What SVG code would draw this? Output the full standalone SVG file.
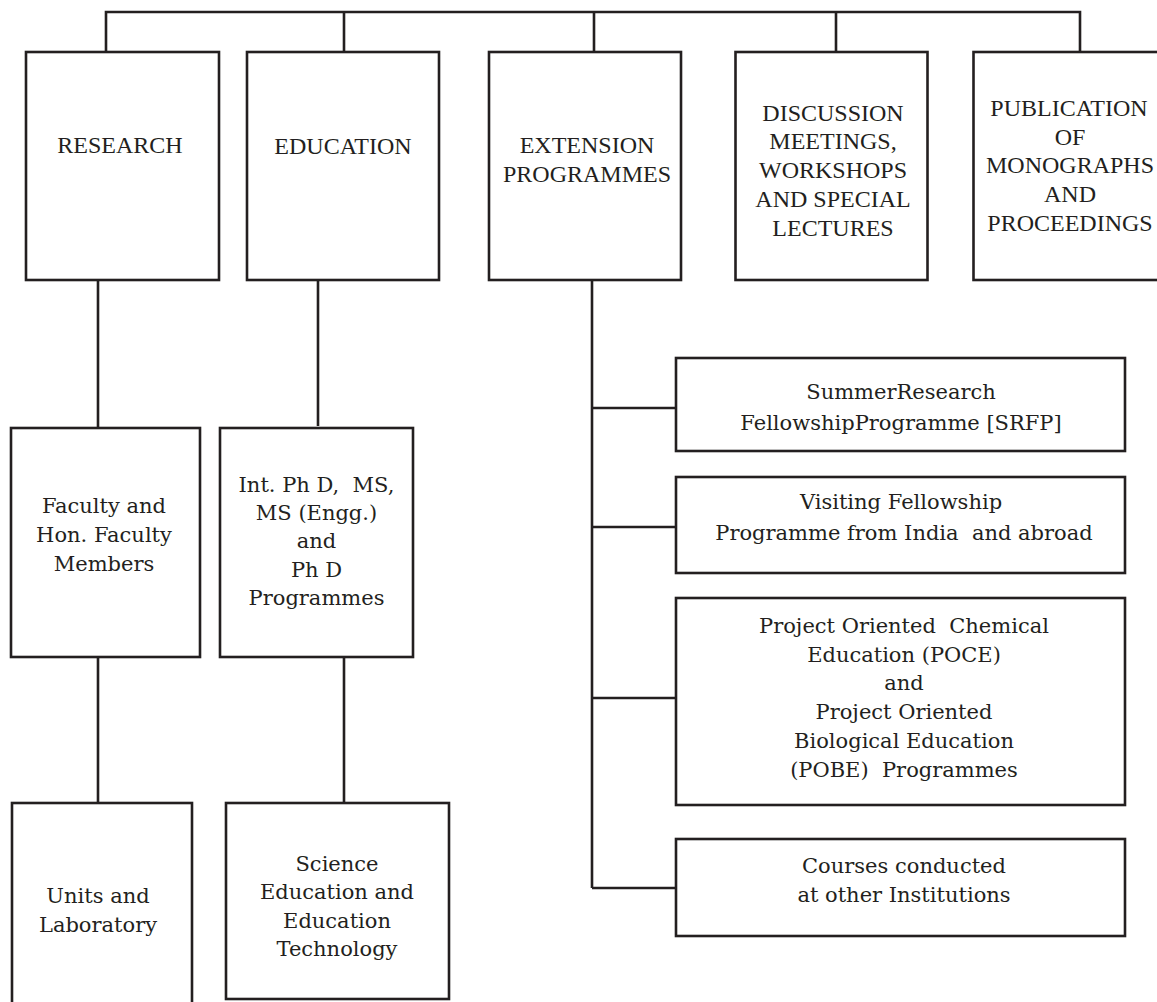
<svg xmlns="http://www.w3.org/2000/svg" width="1157" height="1002" viewBox="0 0 1157 1002">
<style>
.box{fill:#fff;stroke:#231f20;stroke-width:2.6}
.ln{fill:none;stroke:#231f20;stroke-width:2.6}
.cap{font-family:"Liberation Serif",serif;font-size:24px;fill:#231f20;text-anchor:middle}
.low{font-family:"DejaVu Serif",serif;font-size:21px;fill:#231f20;text-anchor:middle;white-space:pre}
</style>
<rect width="1157" height="1002" fill="#fff"/>
<g id="connectors">
<path class="ln" d="M106,52V12H1080V52M344,12V52M594,12V52M836,12V52"/>
<path class="ln" d="M98,280V428M318,280V426M98,657V803M344,655V803"/>
<path class="ln" d="M592,280V888M592,408H676M592,527H676M592,698H676M592,888H676"/>
</g>
<g id="research"><rect class="box" x="26" y="52" width="193" height="228"/><text class="cap" x="120" y="153">RESEARCH</text></g>
<g id="education"><rect class="box" x="247" y="52" width="192" height="228"/><text class="cap" x="343" y="154">EDUCATION</text></g>
<g id="extension"><rect class="box" x="489" y="52" width="192" height="228"/><text class="cap" x="587" y="153">EXTENSION</text><text class="cap" x="587" y="182">PROGRAMMES</text></g>
<g id="discussion"><rect class="box" x="735.5" y="52" width="192" height="228"/><text class="cap" x="833" y="121">DISCUSSION</text><text class="cap" x="833" y="149">MEETINGS,</text><text class="cap" x="833" y="178">WORKSHOPS</text><text class="cap" x="833" y="207">AND SPECIAL</text><text class="cap" x="833" y="236">LECTURES</text></g>
<g id="publication"><rect class="box" x="973.5" y="52" width="200" height="228"/><text class="cap" x="1069" y="116">PUBLICATION</text><text class="cap" x="1070" y="145">OF</text><text class="cap" x="1070" y="173">MONOGRAPHS</text><text class="cap" x="1070" y="202">AND</text><text class="cap" x="1070" y="231">PROCEEDINGS</text></g>
<g id="faculty"><rect class="box" x="11" y="428" width="189" height="229"/><text class="low" x="104" y="513">Faculty and</text><text class="low" x="104" y="542">Hon. Faculty</text><text class="low" x="104" y="571">Members</text></g>
<g id="programmes"><rect class="box" x="220" y="428" width="193" height="229"/><text class="low" x="316.5" y="492">Int. Ph D,  MS,</text><text class="low" x="316.5" y="520">MS (Engg.)</text><text class="low" x="316.5" y="548">and</text><text class="low" x="316.5" y="577">Ph D</text><text class="low" x="316.5" y="605">Programmes</text></g>
<g id="units"><rect class="box" x="12" y="803" width="180" height="220"/><text class="low" x="98" y="903">Units and</text><text class="low" x="98" y="932">Laboratory</text></g>
<g id="science"><rect class="box" x="226" y="803" width="223" height="196"/><text class="low" x="337" y="871">Science</text><text class="low" x="337" y="899">Education and</text><text class="low" x="337" y="928">Education</text><text class="low" x="337" y="956">Technology</text></g>
<g id="srfp"><rect class="box" x="676" y="358" width="449" height="93"/><text class="low" x="901" y="399">SummerResearch</text><text class="low" x="901" y="430">FellowshipProgramme [SRFP]</text></g>
<g id="visiting"><rect class="box" x="676" y="477" width="449" height="96"/><text class="low" x="901" y="509">Visiting Fellowship</text><text class="low" x="904" y="540">Programme from India  and abroad</text></g>
<g id="poce"><rect class="box" x="676" y="598" width="449" height="207"/><text class="low" x="904" y="633">Project Oriented  Chemical</text><text class="low" x="904" y="662">Education (POCE)</text><text class="low" x="904" y="690">and</text><text class="low" x="904" y="719">Project Oriented</text><text class="low" x="904" y="748">Biological Education</text><text class="low" x="904" y="777">(POBE)  Programmes</text></g>
<g id="courses"><rect class="box" x="676" y="839" width="449" height="97"/><text class="low" x="904" y="873">Courses conducted</text><text class="low" x="904" y="902">at other Institutions</text></g>
</svg>
